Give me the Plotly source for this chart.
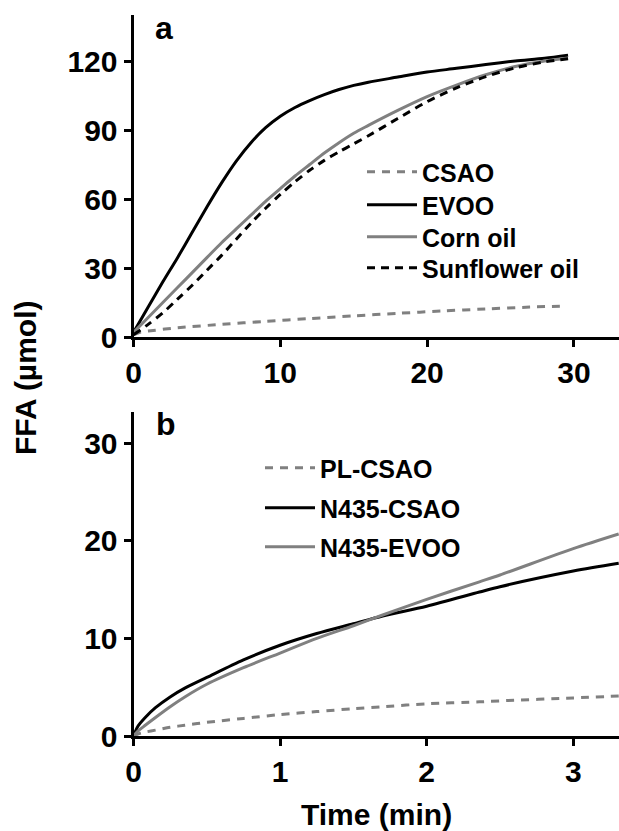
import plotly.graph_objects as go

# ---------------- data: panel a ----------------
t_a = [0, 1, 2, 3, 4, 5, 6, 7, 8, 9, 10, 11, 12, 13, 14, 15, 16, 18, 20, 22, 24, 26, 28, 29.6]
evoo_a = [2, 13, 24, 34.5, 45.5, 56.5, 67, 76.5, 84.5, 91, 96, 99.8, 102.8, 105.4, 107.6, 109.4,
          110.8, 113, 115.2, 116.8, 118.5, 120, 121.2, 122.5]
corn_a = [2, 8.5, 15, 21.5, 28, 34.5, 41, 47, 53, 59, 64.5, 70, 75, 80, 84.5, 88.6,
          92, 98.5, 104.5, 109.5, 114, 117.6, 120, 121.3]
sun_a = [1, 5.5, 10.5, 16.5, 22.5, 29, 35.5, 42.5, 49.5, 56, 62, 67.5, 72.5, 76.8, 80.5, 84,
         87.5, 95, 102.3, 108.3, 113.2, 117, 119.6, 121]
t_csao = [0, 0.5, 1, 3, 6, 9, 12, 15, 18, 21, 24, 27, 29.5]
csao_a = [1, 2.2, 2.6, 4, 5.5, 6.8, 8, 9.2, 10.3, 11.3, 12.2, 13, 13.5]

# ---------------- data: panel b ----------------
t_b = [0, 0.03, 0.08, 0.15, 0.25, 0.35, 0.5, 0.75, 1, 1.25, 1.5, 1.7, 2, 2.36, 2.5, 3, 3.31]
n435_csao = [0, 1.0, 1.9, 2.9, 4.0, 4.9, 6.0, 7.8, 9.3, 10.5, 11.5, 12.3, 13.3, 14.75, 15.3, 16.9, 17.7]
n435_evoo = [0, 0.5, 1.1, 1.9, 3.0, 4.0, 5.3, 7.0, 8.5, 10.0, 11.3, 12.4, 14.0, 15.8, 16.5, 19.2, 20.7]
pl_csao = [0, 0.2, 0.4, 0.6, 0.9, 1.1, 1.4, 1.8, 2.2, 2.5, 2.8, 3.0, 3.3, 3.5, 3.6, 3.9, 4.1]

yticks_a = [0, 30, 60, 90, 120]
xticks_a = [0, 10, 20, 30]
yticks_b = [0, 10, 20, 30]
xticks_b = [0, 1, 2, 3]

FONT = "Liberation Sans, Arial, sans-serif"
GRAY = "#808080"
BLACK = "#000000"
W, H = 619, 831

fig = go.Figure()

def add(x, y, name, color, dash, xa, ya, leg):
    fig.add_trace(go.Scatter(x=x, y=y, mode="lines", name=name,
                             line=dict(color=color, width=3, dash=dash, shape="spline", smoothing=0.8),
                             xaxis=xa, yaxis=ya, legend=leg))

# panel a traces
add(t_csao, csao_a, "CSAO", GRAY, "8px,7px", "x", "y", "legend")
add(t_a, evoo_a, "EVOO", BLACK, "solid", "x", "y", "legend3")
add(t_a, corn_a, "Corn oil", GRAY, "solid", "x", "y", "legend4")
add(t_a, sun_a, "Sunflower oil", BLACK, "8px,6px", "x", "y", "legend5")
# panel b traces
add(t_b, pl_csao, "PL-CSAO", GRAY, "8px,7px", "x2", "y2", "legend2")
add(t_b, n435_csao, "N435-CSAO", BLACK, "solid", "x2", "y2", "legend6")
add(t_b, n435_evoo, "N435-EVOO", GRAY, "solid", "x2", "y2", "legend7")

tickfont = dict(family=FONT, size=30, color=BLACK, weight="bold")
axis_common = dict(showline=True, linewidth=3, linecolor=BLACK, ticks="outside",
                   ticklen=7, tickwidth=3, tickcolor=BLACK, showgrid=False,
                   zeroline=False, tickfont=tickfont, fixedrange=True, automargin=False)

legfont = dict(family=FONT, size=25, color=BLACK, weight="bold")

def leg(xpx, ypx):
    return dict(x=xpx / W, y=1 - ypx / H, xanchor="left", yanchor="middle",
                bgcolor="rgba(0,0,0,0)", borderwidth=0, font=legfont, itemwidth=50)

xdom = [133.5 / W, 1.0]
fig.update_layout(
    width=W, height=H,
    margin=dict(l=0, r=0, t=0, b=0, pad=0, autoexpand=False),
    paper_bgcolor="white", plot_bgcolor="white",
    font=dict(family=FONT, color=BLACK),
    xaxis=dict(domain=xdom, range=[0, 33.07], tickvals=xticks_a, anchor="y", **axis_common),
    yaxis=dict(domain=[1 - 337 / H, 1 - 15 / H], range=[0, 140], tickvals=yticks_a,
               anchor="x", **axis_common),
    xaxis2=dict(domain=xdom, range=[0, 3.312], tickvals=xticks_b, anchor="y2", **axis_common),
    yaxis2=dict(domain=[1 - 736 / H, 1 - 412 / H], range=[0, 33.2], tickvals=yticks_b,
                anchor="x2", **axis_common),
    showlegend=True,
    legend=leg(362, 172),
    legend3=leg(362, 205),
    legend4=leg(362, 237),
    legend5=leg(362, 268),
    legend2=leg(260, 468),
    legend6=leg(260, 508),
    legend7=leg(260, 547),
    annotations=[
        dict(text="a", x=164 / W, y=1 - 28 / H, xref="paper", yref="paper",
             showarrow=False, xanchor="center", yanchor="middle",
             font=dict(family=FONT, size=32, color=BLACK, weight="bold")),
        dict(text="b", x=166 / W, y=1 - 424 / H, xref="paper", yref="paper",
             showarrow=False, xanchor="center", yanchor="middle",
             font=dict(family=FONT, size=32, color=BLACK, weight="bold")),
        dict(text="FFA (µmol)", x=25 / W, y=1 - 378 / H, xref="paper", yref="paper",
             showarrow=False, textangle=-90, xanchor="center", yanchor="middle",
             font=dict(family=FONT, size=30, color=BLACK, weight="bold")),
        dict(text="Time (min)", x=376 / W, y=1 - 814 / H, xref="paper", yref="paper",
             showarrow=False, xanchor="center", yanchor="middle",
             font=dict(family=FONT, size=30, color=BLACK, weight="bold")),
    ],
)

fig.write_html("out.html", config={"displayModeBar": False},
               post_script="document.body.style.margin='0';")
